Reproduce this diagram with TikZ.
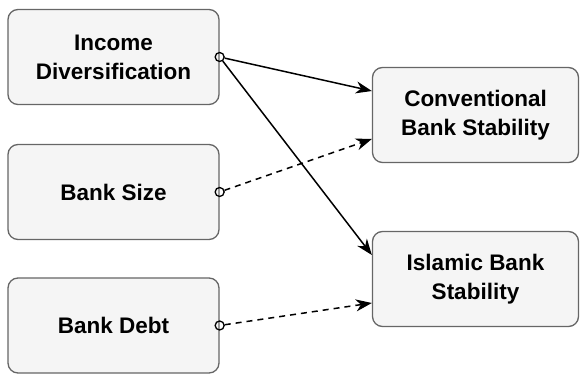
\documentclass[tikz,border=0pt]{standalone}
\usepackage{fontspec}
\setmainfont{Liberation Sans}
\usetikzlibrary{arrows.meta}
\definecolor{boxfill}{HTML}{F5F5F5}
\definecolor{boxline}{HTML}{666666}
\begin{document}
\begin{tikzpicture}[x=1pt,y=1pt,
  box/.style={draw=boxline, fill=boxfill, line width=1.3pt, rounded corners=10pt,
    minimum height=95pt, align=center, inner sep=0pt,
    font=\fontsize{22.5}{29}\selectfont\bfseries},
  lbox/.style={box, minimum width=211pt},
  rbox/.style={box, minimum width=206pt},
  conn/.style={line width=1.5pt, black, -{Stealth[length=16pt,width=12pt,inset=5pt]}},
  dconn/.style={conn, dash pattern=on 6pt off 5pt},
  port/.style={circle, draw=black, line width=1.3pt, fill=none, minimum size=9pt, inner sep=0pt}
]
\useasboundingbox (0,0) rectangle (580,374);
\node[lbox] (inc) at (113.5,317) {Income\\Diversification};
\node[lbox] (size) at (113.5,182) {Bank Size};
\node[lbox] (debt) at (113.5,48.5) {Bank Debt};
\node[rbox] (conv) at (475.5,259) {Conventional\\Bank Stability};
\node[rbox] (isl) at (475.5,95) {Islamic Bank\\Stability};
\node[port] (pinc) at (inc.east) {};
\node[port] (psize) at (size.east) {};
\node[port] (pdebt) at (debt.east) {};
\coordinate (c1) at ([yshift=24pt]conv.west);
\coordinate (c2) at ([yshift=-24pt]conv.west);
\coordinate (i1) at ([yshift=24pt]isl.west);
\coordinate (i2) at ([yshift=-24pt]isl.west);
\draw[conn] (pinc) -- (c1);
\draw[conn] (pinc) -- (i1);
\draw[dconn] (psize) -- (c2);
\draw[dconn] (pdebt) -- (i2);
\end{tikzpicture}
\end{document}
